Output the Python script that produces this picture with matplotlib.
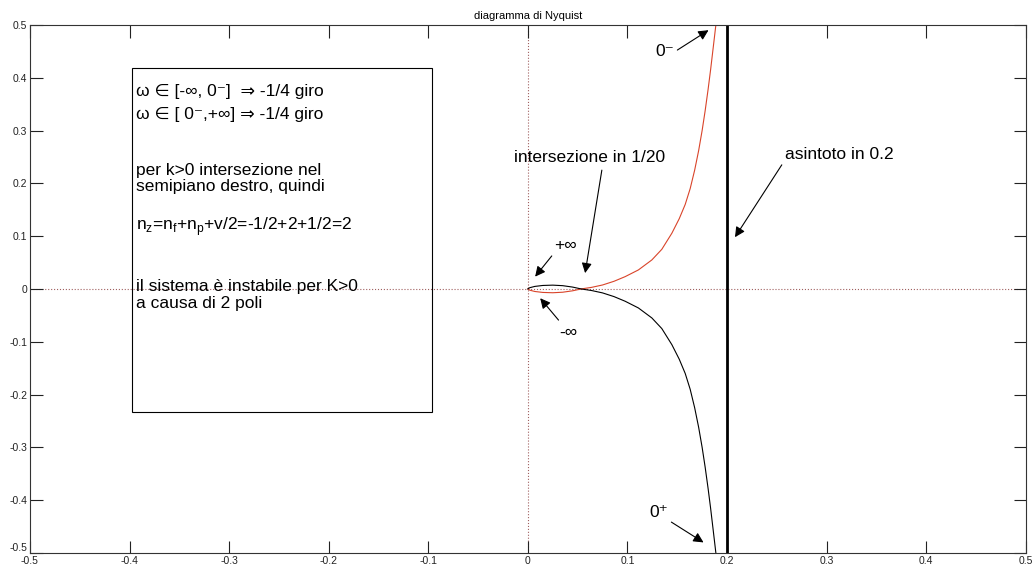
import numpy as np
import matplotlib
matplotlib.use('Agg')
import matplotlib.pyplot as plt
from matplotlib.patches import Rectangle

plt.rcParams['font.family'] = ['Liberation Sans', 'DejaVu Sans']
plt.rcParams['mathtext.fontset'] = 'custom'
plt.rcParams['mathtext.rm'] = 'Liberation Sans'

# upper (red) branch of the Nyquist curve, from omega=0- down to the crossing
branch_x = [0.1888, 0.186, 0.1835, 0.181, 0.178, 0.175, 0.1715, 0.1675, 0.163,
            0.158, 0.152, 0.1446, 0.1345, 0.1245, 0.111, 0.0977, 0.0865,
            0.075, 0.064, 0.0535]
branch_y = [0.5, 0.455, 0.415, 0.378, 0.337, 0.3, 0.262, 0.225, 0.19,
            0.16, 0.133, 0.1055, 0.075, 0.0549, 0.036, 0.0233, 0.0145,
            0.0075, 0.003, 0.0]

# small lobe between the crossing (1/20) and the origin
lobe_x = [0.0535, 0.045, 0.035, 0.025, 0.015, 0.007, 0.002, 0.0]
lobe_y = [0.0, 0.0035, 0.0062, 0.0072, 0.0066, 0.0048, 0.0024, 0.0]

asymptote = 0.2
ticks = [-0.5, -0.4, -0.3, -0.2, -0.1, 0, 0.1, 0.2, 0.3, 0.4, 0.5]
tick_labels = ['-0.5', '-0.4', '-0.3', '-0.2', '-0.1', '0', '0.1', '0.2', '0.3', '0.4', '0.5']

box_lines = [
    (0.374, 'ω ∈ [-∞, 0⁻]  ⇒ -1/4 giro'),
    (0.330, 'ω ∈ [ 0⁻,+∞] ⇒ -1/4 giro'),
    (0.225, 'per k>0 intersezione nel'),
    (0.194, 'semipiano destro, quindi'),
    (0.118, r'n$_\mathregular{z}$=n$_\mathregular{f}$+n$_\mathregular{p}$+v/2=-1/2+2+1/2=2'),
    (0.004, 'il sistema è instabile per K>0'),
    (-0.027, 'a causa di 2 poli'),
]

fig = plt.figure(figsize=(10.33, 5.66), dpi=100)
ax = fig.add_axes([0.029, 0.023, 0.964, 0.933])

# axes through origin
ax.axhline(0, color='#a06060', ls=':', lw=0.8, zorder=1)
ax.axvline(0, color='#a06060', ls=':', lw=0.8, zorder=1)

bx = np.array(branch_x)
by = np.array(branch_y)
lx = np.array(lobe_x)
ly = np.array(lobe_y)

ax.plot(np.r_[bx, lx[1:]], np.r_[by, -ly[1:]], color='#d9442a', lw=0.8)
ax.plot(np.r_[bx, lx[1:]], np.r_[-by, ly[1:]], color='k', lw=0.8)
ax.axvline(asymptote, color='k', lw=2)

# text box
ax.add_patch(Rectangle((-0.3976, -0.233), 0.301, 0.652, fill=False,
                       edgecolor='k', lw=0.8))
for y, s in box_lines:
    ax.text(-0.394, y, s, fontsize=12.5, ha='left', va='center')

arr = dict(arrowstyle='-|>', color='k', lw=0.8, mutation_scale=15,
           shrinkA=0, shrinkB=0)
ax.annotate('0⁻', xy=(0.1814, 0.49), xytext=(0.1285, 0.449), fontsize=12.5,
            ha='left', va='center', arrowprops=dict(arr, relpos=(1, 0.5)))
ax.annotate('0⁺', xy=(0.1764, -0.480), xytext=(0.1225, -0.424), fontsize=12.5,
            ha='left', va='center', arrowprops=dict(arr, relpos=(1, 0)))
ax.annotate('', xy=(0.0575, 0.03), xytext=(0.0743, 0.225), arrowprops=arr)
ax.text(-0.014, 0.248, 'intersezione in 1/20', fontsize=12.5, ha='left', va='center')
ax.annotate('', xy=(0.208, 0.098), xytext=(0.255, 0.235), arrowprops=arr)
ax.text(0.258, 0.254, 'asintoto in 0.2', fontsize=12.5, ha='left', va='center')
ax.annotate('', xy=(0.0073, 0.0233), xytext=(0.024, 0.0625), arrowprops=arr)
ax.text(0.026, 0.083, '+∞', fontsize=12.5, ha='left', va='center')
ax.annotate('', xy=(0.0124, -0.0176), xytext=(0.0308, -0.059), arrowprops=arr)
ax.text(0.032, -0.083, '-∞', fontsize=12.5, ha='left', va='center')

ax.set_xlim(-0.5, 0.5)
ax.set_ylim(-0.5, 0.5)
ax.set_xticks(ticks)
ax.set_xticklabels(tick_labels)
ax.set_yticks(ticks)
ax.set_yticklabels(tick_labels)
ax.tick_params(direction='in', length=9, width=0.8, labelsize=7.5, pad=2,
               top=True, right=True, colors='#222222')
# lift the lowest y label a little so it clears the x label
ax.get_yticklabels()[0].set_va('bottom')
for sp in ax.spines.values():
    sp.set_color('#333333')
    sp.set_linewidth(0.8)
ax.set_title('diagramma di Nyquist', fontsize=8, pad=4)

fig.savefig('out.png', dpi=100)
